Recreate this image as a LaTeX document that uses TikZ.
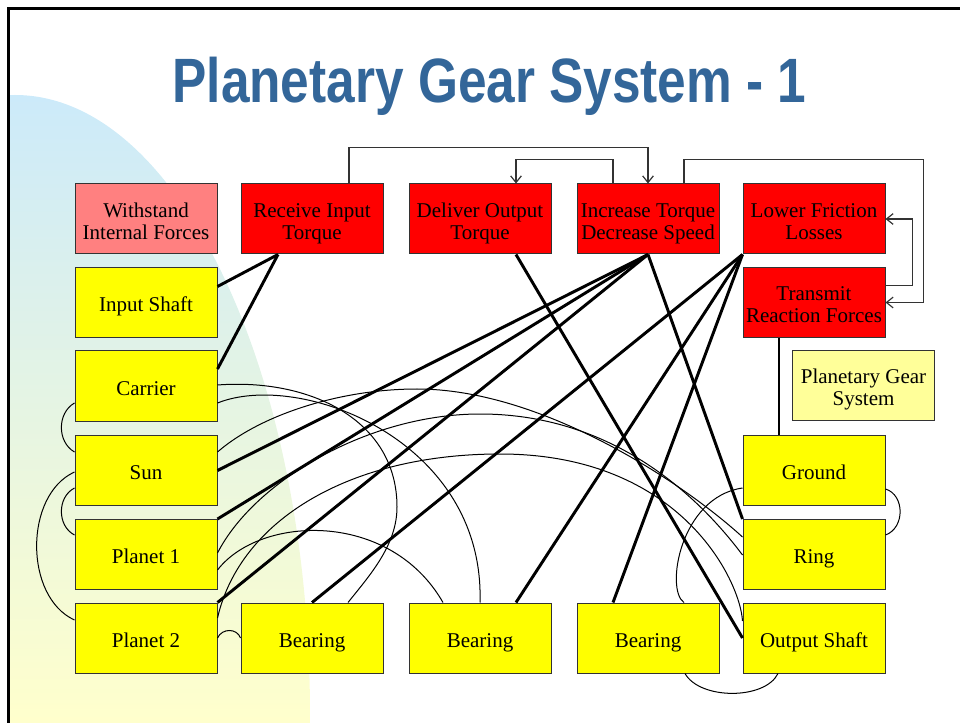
\documentclass[tikz,border=0pt]{standalone}
\usepackage{fontspec}
\setmainfont{Liberation Serif}
\newfontfamily\titlefont{Liberation Sans}
\usetikzlibrary{arrows.meta,calc}
\definecolor{titleblue}{RGB}{51,102,153}
\definecolor{bgblue}{RGB}{204,234,250}
\definecolor{bgyellow}{RGB}{255,255,204}
\definecolor{boxred}{RGB}{255,0,0}
\definecolor{boxpink}{RGB}{255,128,128}
\definecolor{boxyellow}{RGB}{255,255,0}
\definecolor{boxpale}{RGB}{255,255,153}
\definecolor{edgegray}{RGB}{51,51,51}
\newcommand{\bxt}[1]{\raisebox{-3.6pt}[\height][\depth]{\begin{tabular}{@{}c@{}}#1\end{tabular}}}
\begin{document}
\begin{tikzpicture}[x=0.75pt,y=-0.75pt,
  box/.style={draw=edgegray, line width=0.75pt, minimum width=106.5pt, minimum height=52.5pt,
    inner sep=0pt, font=\fontsize{15.75pt}{16.5pt}\selectfont},
  redbox/.style={box, fill=boxred},
  pinkbox/.style={box, fill=boxpink},
  yellowbox/.style={box, fill=boxyellow},
  palebox/.style={box, fill=boxpale},
  thicklink/.style={line width=2.2pt},
  thinlink/.style={line width=0.75pt},
  arrowlink/.style={draw=edgegray, line width=0.9pt, -{Straight Barb[length=5pt,width=8pt]}}
]
\useasboundingbox (0,0) rectangle (960,723);
% background
\begin{scope}
  \clip (8,8) rectangle (960,723);
  \clip (15,715) ellipse [x radius=295, y radius=620];
  \shade[top color=bgblue, bottom color=bgyellow] (0,95) rectangle (330,723);
\end{scope}
\draw[line width=1.6pt] (8.5,723) -- (8.5,8.5) -- (960,8.5);
% title
\node[anchor=base, text=titleblue, font={\titlefont\bfseries\fontsize{47}{50}\selectfont}] (title) at (489.5,103) {\scalebox{0.82}[1]{Planetary Gear System - 1}};
% nodes
\node[pinkbox] (withstand) at (146,219) {\bxt{Withstand\\Internal Forces}};
\node[redbox] (receive) at (312,219) {\bxt{Receive Input\\Torque}};
\node[redbox] (deliver) at (480,219) {\bxt{Deliver Output\\Torque}};
\node[redbox] (increase) at (648,219) {\bxt{Increase Torque\\Decrease Speed}};
\node[redbox] (lower) at (814,219) {\bxt{Lower Friction\\Losses}};
\node[redbox] (transmit) at (814,302.5) {\bxt{Transmit\\Reaction Forces}};
\node[palebox] (pgs) at (863.5,385.5) {\bxt{Planetary Gear\\System}};
\node[yellowbox] (input) at (146,302.5) {\bxt{Input Shaft}};
\node[yellowbox] (carrier) at (146,386) {\bxt{Carrier}};
\node[yellowbox] (sun) at (146,470.5) {\bxt{Sun}};
\node[yellowbox] (planetA) at (146,554.5) {\bxt{Planet 1}};
\node[yellowbox] (planetB) at (146,638) {\bxt{Planet 2}};
\node[yellowbox] (bearA) at (312,638) {\bxt{Bearing}};
\node[yellowbox] (bearB) at (480,638) {\bxt{Bearing}};
\node[yellowbox] (bearC) at (648,638) {\bxt{Bearing}};
\node[yellowbox] (ground) at (814,470.5) {\bxt{Ground}};
\node[yellowbox] (ring) at (814,554.5) {\bxt{Ring}};
\node[yellowbox] (output) at (814,638) {\bxt{Output Shaft}};
% arrows
\draw[arrowlink] ($(receive.north)+(37,0)$) |- ($(increase.north)+(0,-36)$) -- (increase.north);
\draw[arrowlink] ($(increase.north)+(-35,0)$) |- ($(deliver.north)+(36,-24)$) -- ($(deliver.north)+(36,0)$);
\draw[arrowlink] ($(increase.north)+(36,0)$) -- ($(increase.north)+(36,-24)$) -| ($(transmit.east)+(38,0)$) -- (transmit.east);
\draw[arrowlink] ($(transmit.east)+(0,-17)$) -| ($(lower.east)+(27,0)$) -- (lower.east);
% thick links
\draw[thicklink] ($(receive.south)+(-34,0)$) -- ($(input.east)+(0,-16)$);
\draw[thicklink] ($(receive.south)+(-34,0)$) -- ($(carrier.east)+(0,-17)$);
\draw[thicklink] (increase.south) -- (sun.east);
\draw[thicklink] (increase.south) -- (planetA.north east);
\draw[thicklink] (increase.south) -- (planetB.north east);
\draw[thicklink] (increase.south) -- (ring.north west);
\draw[thicklink] ($(deliver.south)+(36,0)$) -- (output.west);
\draw[thicklink] (lower.south west) -- (bearA.north);
\draw[thicklink] (lower.south west) -- ($(bearB.north)+(36,0)$);
\draw[thicklink] (lower.south west) -- ($(bearC.north)+(-35,0)$);
\draw[thicklink] ($(transmit.south)+(-35,0)$) -- ($(ground.north)+(-35,0)$);
% thin links
\draw[thinlink] ($(carrier.west)+(0,17)$) .. controls (57,413) and (57,442) .. ($(sun.west)+(0,-18.5)$);
\draw[thinlink] ($(sun.west)+(0,1.5)$) .. controls (24,495) and (24,597) .. ($(planetB.west)+(0,-18)$);
\draw[thinlink] ($(sun.west)+(0,17.5)$) .. controls (57,497) and (57,526) .. ($(planetA.west)+(0,-19.5)$);
\draw[thinlink] (planetB.east) .. controls (222,628) and (237,628) .. (bearA.west);
\draw[thinlink] ($(carrier.east)+(0,-1)$) .. controls (310,378) and (397,420) .. (397,507) .. controls (397,545) and (370,575) .. ($(bearA.north)+(36,0)$);
\draw[thinlink] ($(carrier.east)+(0,17)$) .. controls (300,370) and (485,440) .. (bearB.north);
\draw[thinlink] ($(sun.east)+(0,-18.5)$) .. controls (260,415) and (340,389) .. (417,389) .. controls (540,389) and (680,480) .. ($(ring.west)+(0,-17.5)$);
\draw[thinlink] ($(planetA.east)+(0,-1.5)$) .. controls (255,480) and (370,414) .. (480,414) .. controls (620,414) and (705,505) .. ($(ring.west)+(0,0.5)$);
\draw[thinlink] ($(planetA.east)+(0,15.5)$) .. controls (260,515) and (390,510) .. ($(bearB.north)+(-37,0)$);
\draw[thinlink] ($(planetB.east)+(0,-20)$) .. controls (240,520) and (350,454) .. (500,454) .. controls (680,454) and (740,580) .. ($(output.west)+(0,-17)$);
\draw[thinlink] ($(ground.west)+(0,17.5)$) .. controls (680,497) and (665,590) .. ($(bearC.north)+(36,0)$);
\draw[thinlink] ($(ground.east)+(0,18.5)$) .. controls (905,495) and (905,528) .. ($(ring.east)+(0,-19.5)$);
\draw[thinlink] ($(output.south)+(-36,0)$) .. controls (765,700) and (700,700) .. ($(bearC.south)+(37,0)$);
\end{tikzpicture}
\end{document}
